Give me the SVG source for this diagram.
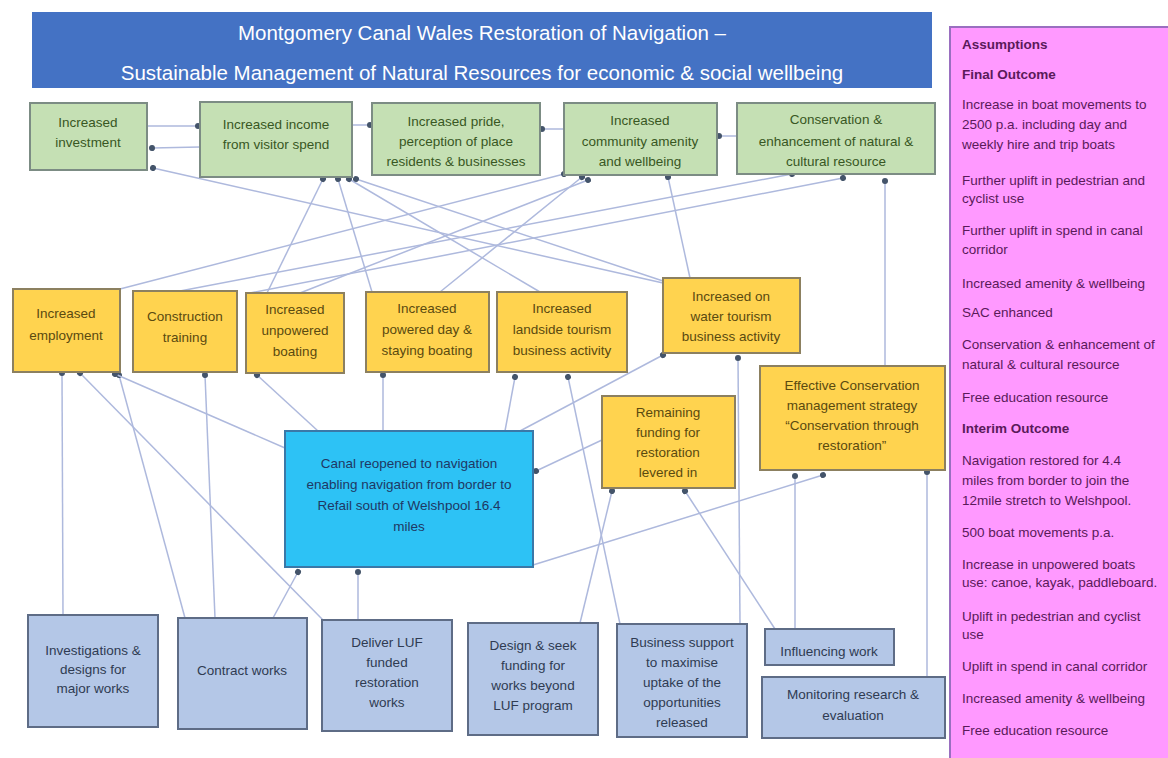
<svg xmlns="http://www.w3.org/2000/svg" width="1168" height="758" viewBox="0 0 1168 758">
<defs>
<marker id="dot" viewBox="0 0 6 6" refX="3" refY="3" markerWidth="6" markerHeight="6" markerUnits="userSpaceOnUse" orient="auto">
<circle cx="3" cy="3" r="3" fill="#44546A"/>
</marker>
<style>
.t{font-family:"Liberation Sans",Arial,sans-serif;text-anchor:middle}
.g rect{fill:#C5E0B4;stroke:#7C8C84;stroke-width:2}
.g text{fill:#385723;font-size:13.5px}
.y rect{fill:#FFD34F;stroke:#8C8060;stroke-width:2}
.y text{fill:#5A4A10;font-size:13.5px}
.b rect{fill:#B4C7E7;stroke:#5E6C86;stroke-width:2}
.b text{fill:#2F3B52;font-size:13.5px}
.c rect{fill:#2DC2F5;stroke:#3A78A8;stroke-width:2}
.c text{fill:#1F3864;font-size:13.5px}
#connectors line{stroke:#AEB9DD;stroke-width:1.5;marker-end:url(#dot)}
.p{font-family:"Liberation Sans",Arial,sans-serif;font-size:13.5px;fill:#5A1A5A}
.pb{font-weight:bold}
</style>
</defs>
<rect width="1168" height="758" fill="#FFFFFF"/>

<g id="title">
<rect x="32" y="12" width="900" height="76" fill="#4472C4"/>
<text class="t" x="482" y="40" font-size="20.5" fill="#FFFFFF">Montgomery Canal Wales Restoration of Navigation –</text>
<text class="t" x="482" y="80" font-size="20.5" fill="#FFFFFF">Sustainable Management of Natural Resources  for economic &amp; social wellbeing</text>
</g>

<g id="connectors">
<line x1="147" y1="126" x2="198" y2="126"/>
<line x1="200" y1="147" x2="152" y2="148"/>
<line x1="352" y1="125" x2="370" y2="125"/>
<line x1="564" y1="129" x2="542" y2="129"/>
<line x1="737" y1="136" x2="719" y2="136"/>
<line x1="663" y1="283" x2="153" y2="168"/>
<line x1="120" y1="289" x2="564" y2="174"/>
<line x1="267" y1="293" x2="323" y2="179"/>
<line x1="372" y1="292" x2="338" y2="179"/>
<line x1="540" y1="292" x2="349" y2="179"/>
<line x1="663" y1="281" x2="356" y2="179"/>
<line x1="690" y1="278" x2="668" y2="177"/>
<line x1="300" y1="293" x2="588" y2="180"/>
<line x1="440" y1="292" x2="582" y2="177"/>
<line x1="180" y1="291" x2="792" y2="174"/>
<line x1="250" y1="293" x2="843" y2="178"/>
<line x1="885" y1="366" x2="885" y2="181"/>
<line x1="63" y1="615" x2="62" y2="373"/>
<line x1="185" y1="618" x2="119" y2="375"/>
<line x1="323" y1="620" x2="80" y2="373"/>
<line x1="285" y1="448" x2="115" y2="374"/>
<line x1="215" y1="618" x2="205" y2="375"/>
<line x1="318" y1="431" x2="257" y2="375"/>
<line x1="383" y1="431" x2="383" y2="375"/>
<line x1="505" y1="431" x2="515" y2="377"/>
<line x1="620" y1="624" x2="568" y2="377"/>
<line x1="520" y1="431" x2="663" y2="355"/>
<line x1="740" y1="624" x2="738" y2="358"/>
<line x1="602" y1="440" x2="536" y2="471"/>
<line x1="580" y1="623" x2="612" y2="491"/>
<line x1="775" y1="629" x2="685" y2="491"/>
<line x1="795" y1="629" x2="795" y2="476"/>
<line x1="533" y1="565" x2="823" y2="475"/>
<line x1="927" y1="677" x2="927" y2="472"/>
<line x1="273" y1="618" x2="298" y2="572"/>
<line x1="358" y1="620" x2="358" y2="572"/>
</g>

<g id="investment" class="g t"><rect x="30" y="103" width="117" height="67"/><text x="88" y="127">Increased</text><text x="88" y="147">investment</text></g>
<g id="income" class="g t"><rect x="200" y="102" width="152" height="75"/><text x="276" y="129">Increased income</text><text x="276" y="149">from visitor spend</text></g>
<g id="pride" class="g t"><rect x="372" y="103" width="168" height="72"/><text x="456" y="126">Increased pride,</text><text x="456" y="146">perception of place</text><text x="456" y="166">residents &amp; businesses</text></g>
<g id="community" class="g t"><rect x="564" y="103" width="153" height="72"/><text x="640" y="125">Increased</text><text x="640" y="146">community amenity</text><text x="640" y="166">and wellbeing</text></g>
<g id="conservation" class="g t"><rect x="737" y="103" width="198" height="71"/><text x="836" y="124">Conservation &amp;</text><text x="836" y="146">enhancement of natural &amp;</text><text x="836" y="166">cultural resource</text></g>

<g id="employment" class="y t"><rect x="13" y="289" width="107" height="83"/><text x="66" y="318">Increased</text><text x="66" y="340">employment</text></g>
<g id="construction" class="y t"><rect x="133" y="291" width="104" height="81"/><text x="185" y="321">Construction</text><text x="185" y="342">training</text></g>
<g id="unpowered" class="y t"><rect x="246" y="293" width="98" height="80"/><text x="295" y="314">Increased</text><text x="295" y="335">unpowered</text><text x="295" y="356">boating</text></g>
<g id="powered" class="y t"><rect x="366" y="292" width="123" height="80"/><text x="427" y="313">Increased</text><text x="427" y="334">powered day &amp;</text><text x="427" y="355">staying boating</text></g>
<g id="landside" class="y t"><rect x="497" y="292" width="130" height="80"/><text x="562" y="313">Increased</text><text x="562" y="334">landside tourism</text><text x="562" y="355">business activity</text></g>
<g id="onwater" class="y t"><rect x="663" y="278" width="137" height="75"/><text x="731" y="301">Increased on</text><text x="731" y="321">water tourism</text><text x="731" y="341">business activity</text></g>
<g id="remaining" class="y t"><rect x="602" y="396" width="133" height="92"/><text x="668" y="417">Remaining</text><text x="668" y="437">funding for</text><text x="668" y="457">restoration</text><text x="668" y="477">levered in</text></g>
<g id="effective" class="y t"><rect x="760" y="366" width="185" height="104"/><text x="852" y="390">Effective Conservation</text><text x="852" y="410">management strategy</text><text x="852" y="430">“Conservation through</text><text x="852" y="450">restoration”</text></g>

<g id="canal" class="c t"><rect x="285" y="431" width="248" height="136"/><text x="409" y="468">Canal reopened to navigation</text><text x="409" y="489">enabling navigation from border to</text><text x="409" y="510">Refail south of Welshpool 16.4</text><text x="409" y="531">miles</text></g>

<g id="investigations" class="b t"><rect x="28" y="615" width="130" height="112"/><text x="93" y="655">Investigations &amp;</text><text x="93" y="674">designs for</text><text x="93" y="693">major works</text></g>
<g id="contract" class="b t"><rect x="178" y="618" width="129" height="111"/><text x="242" y="675">Contract works</text></g>
<g id="deliver" class="b t"><rect x="322" y="620" width="130" height="111"/><text x="387" y="647">Deliver LUF</text><text x="387" y="667">funded</text><text x="387" y="687">restoration</text><text x="387" y="707">works</text></g>
<g id="design" class="b t"><rect x="468" y="623" width="130" height="112"/><text x="533" y="650">Design &amp; seek</text><text x="533" y="670">funding for</text><text x="533" y="690">works beyond</text><text x="533" y="710">LUF program</text></g>
<g id="business" class="b t"><rect x="617" y="624" width="130" height="113"/><text x="682" y="647">Business support</text><text x="682" y="667">to maximise</text><text x="682" y="687">uptake of the</text><text x="682" y="707">opportunities</text><text x="682" y="727">released</text></g>
<g id="influencing" class="b t"><rect x="765" y="629" width="129" height="36"/><text x="829" y="656">Influencing work</text></g>
<g id="monitoring" class="b t"><rect x="762" y="677" width="183" height="61"/><text x="853" y="699">Monitoring research &amp;</text><text x="853" y="720">evaluation</text></g>

<g id="assumptions">
<rect x="950" y="27" width="220" height="733" fill="#FF99FF" stroke="#9A6FC0" stroke-width="2"/>
<text class="p pb" x="962" y="49">Assumptions</text>
<text class="p pb" x="962" y="79">Final Outcome</text>
<text class="p" x="962" y="109">Increase in boat movements to</text>
<text class="p" x="962" y="129">2500 p.a. including day and</text>
<text class="p" x="962" y="149">weekly hire and trip boats</text>
<text class="p" x="962" y="185">Further uplift in pedestrian and</text>
<text class="p" x="962" y="203">cyclist use</text>
<text class="p" x="962" y="235">Further uplift in spend in canal</text>
<text class="p" x="962" y="254">corridor</text>
<text class="p" x="962" y="288">Increased amenity &amp; wellbeing</text>
<text class="p" x="962" y="317">SAC enhanced</text>
<text class="p" x="962" y="349">Conservation &amp; enhancement of</text>
<text class="p" x="962" y="369">natural &amp; cultural resource</text>
<text class="p" x="962" y="402">Free education resource</text>
<text class="p pb" x="962" y="433">Interim Outcome</text>
<text class="p" x="962" y="465">Navigation restored for 4.4</text>
<text class="p" x="962" y="485">miles from border to join the</text>
<text class="p" x="962" y="505">12mile stretch to Welshpool.</text>
<text class="p" x="962" y="537">500 boat movements p.a.</text>
<text class="p" x="962" y="569">Increase in unpowered boats</text>
<text class="p" x="962" y="587">use: canoe, kayak, paddleboard.</text>
<text class="p" x="962" y="621">Uplift in pedestrian and cyclist</text>
<text class="p" x="962" y="639">use</text>
<text class="p" x="962" y="671">Uplift in spend in canal corridor</text>
<text class="p" x="962" y="703">Increased amenity &amp; wellbeing</text>
<text class="p" x="962" y="735">Free education resource</text>
</g>
</svg>
